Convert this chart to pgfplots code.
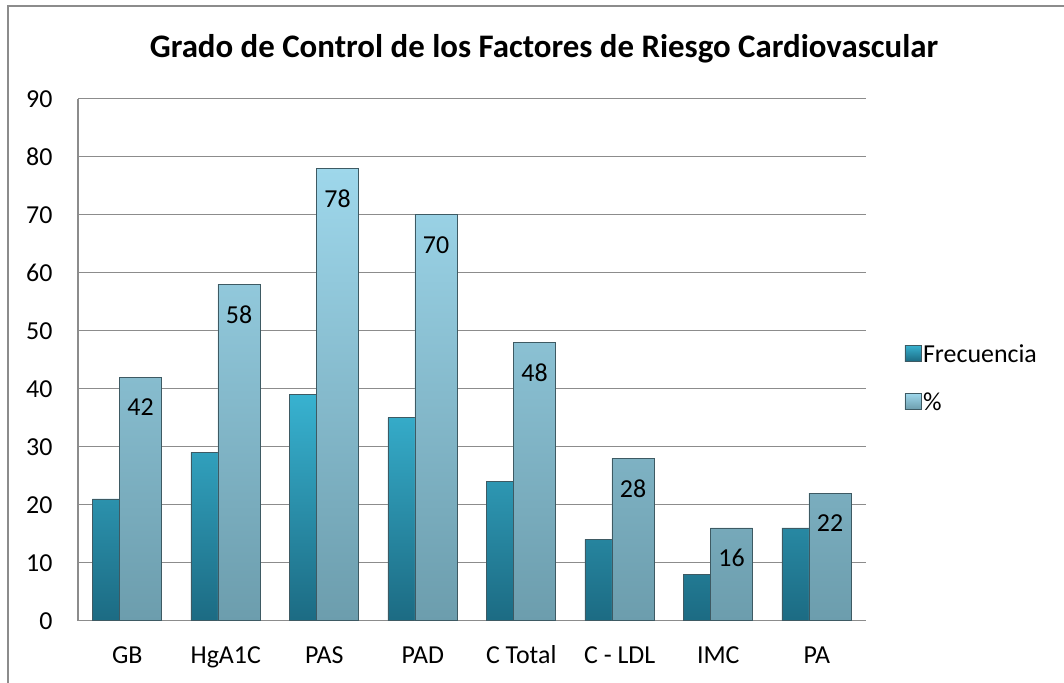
\documentclass[border=0pt]{standalone}
\usepackage{fontspec}
\setmainfont{Carlito}
\usepackage{pgfplots}
\pgfplotsset{compat=1.18}

\definecolor{frectop}{HTML}{38B2D0}
\definecolor{frecbot}{HTML}{1C6B83}
\definecolor{pcttop}{HTML}{9ED7EB}
\definecolor{pctbot}{HTML}{6C9DAD}
\definecolor{baredge}{HTML}{3E5A63}
\definecolor{gridgray}{HTML}{8C8C8C}

\begin{document}
\begin{tikzpicture}[x=1bp,y=1bp]
% outer chart frame (only left and top edges are visible)
\draw[gridgray, line width=1.2bp] (8,0) -- (8,677) -- (1064,677);
\node[font=\bfseries\fontsize{33}{38}\selectfont] at (544,634)
  {Grado de Control de los Factores de Riesgo Cardiovascular};

\begin{axis}[
  at={(78bp,62.3bp)}, anchor=south west,
  scale only axis,
  width=788bp, height=522bp,
  xmin=-0.5, xmax=7.5,
  ymin=0, ymax=90,
  ytick={0,10,...,90},
  xtick={0,...,7},
  xticklabels={GB, HgA1C, PAS, PAD, C Total, C - LDL, IMC, PA},
  axis x line*=bottom, axis y line*=left,
  axis line style={gridgray, line width=1.2bp, -},
  ymajorgrids, grid style={gridgray, line width=1.2bp},
  major tick length=0pt,
  tick label style={font=\fontsize{26}{30}\selectfont},
  /pgf/number format/assume math mode=true,
  yticklabel style={xshift=-22bp},
  xticklabel style={anchor=base, yshift=-43bp},
  bar width=0.43,
  legend style={draw=none, at={(1.045,0.537)}, anchor=north west,
    font=\fontsize{26}{30}\selectfont, row sep=25bp, fill=none,
    /tikz/every even column/.append style={column sep=9bp}},
  legend cell align=left,
  legend image code/.code={\draw[#1, draw=baredge, line width=0.4bp] (0bp,-7bp) rectangle (16bp,9bp);},
]
\addplot[ybar, bar shift=-0.14, top color=frectop, bottom color=frecbot,
  draw=baredge, line width=0.5bp]
  coordinates {(0,21) (1,29) (2,39) (3,35) (4,24) (5,14) (6,8) (7,16)};
\addlegendentry{Frecuencia}
\addplot[ybar, bar shift=0.135, top color=pcttop, bottom color=pctbot,
  draw=baredge, line width=0.5bp,
  nodes near coords,
  every node near coord/.append style={anchor=center, yshift=-30bp, xshift=13.3bp,
    font=\fontsize{26}{30}\selectfont, text=black}]
  coordinates {(0,42) (1,58) (2,78) (3,70) (4,48) (5,28) (6,16) (7,22)};
\addlegendentry{\%}
\end{axis}
\pgfresetboundingbox
\path (0,0) rectangle (1064,683);
\end{tikzpicture}
\end{document}
